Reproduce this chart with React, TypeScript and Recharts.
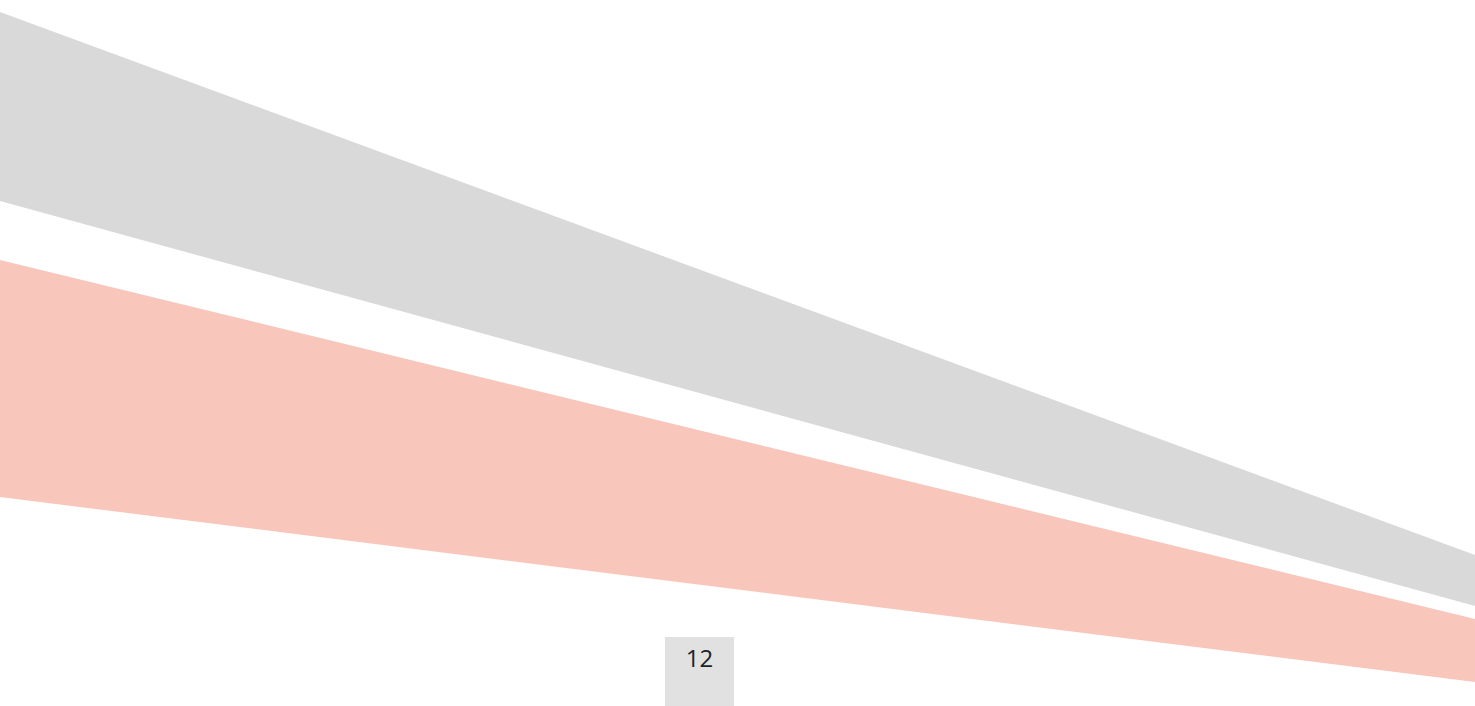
import { ComposedChart, Area, XAxis, YAxis } from 'recharts'

// x positions (percent across slide) and band edges (px from top)
const xs = [0, 100]
const grayTop = [12, 555]
const grayBottom = [201, 606]
const salmonTop = [260, 619]
const salmonBottom = [497, 682]

const pageLabel = '12'

const data = xs.map((x, i) => ({
  x,
  gray: [grayTop[i], grayBottom[i]],
  salmon: [salmonTop[i], salmonBottom[i]],
}))

export default function App() {
  return (
    <div style={{ position: 'fixed', top: 0, left: 0, width: 1475, height: 706, background: '#fff', overflow: 'hidden' }}>
      <ComposedChart width={1475} height={706} data={data} margin={{ top: 0, right: 0, bottom: 0, left: 0 }}>
        <XAxis dataKey="x" type="number" domain={[0, 100]} hide />
        <YAxis type="number" domain={[0, 706]} reversed hide />
        <Area
          dataKey="gray"
          type="linear"
          fill="#d9d9d9"
          fillOpacity={1}
          stroke="none"
          dot={false}
          activeDot={false}
          isAnimationActive={false}
        />
        <Area
          dataKey="salmon"
          type="linear"
          fill="#f8c6ba"
          fillOpacity={1}
          stroke="none"
          dot={false}
          activeDot={false}
          isAnimationActive={false}
        />
      </ComposedChart>

      {/* page number box */}
      <div
        style={{
          position: 'absolute',
          left: 665,
          top: 637,
          width: 69,
          height: 69,
          background: '#e1e1e1',
          fontFamily: '"Open Sans", sans-serif',
          fontSize: 24,
          color: '#222',
          textAlign: 'center',
          paddingTop: 4,
          boxSizing: 'border-box',
        }}
      >
        {pageLabel}
      </div>
    </div>
  )
}
